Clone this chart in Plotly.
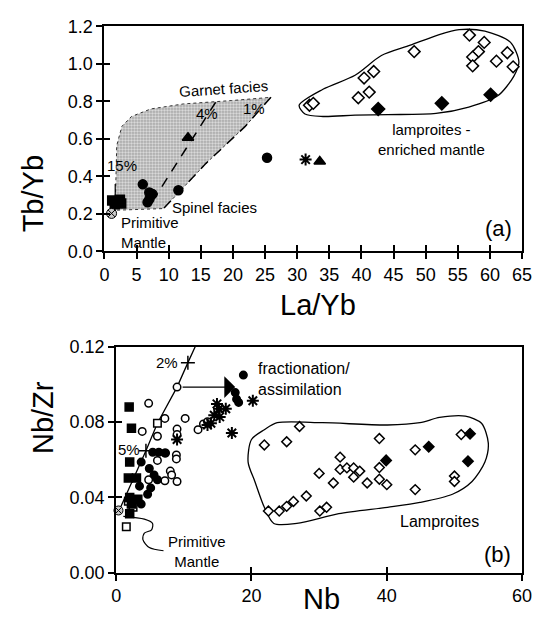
import plotly.graph_objects as go

# ---------------- (a) La/Yb vs Tb/Yb ----------------
a_pm_x = [1.1]; a_pm_y = [0.203]
a_sq_x = [1.2, 2.4, 1.6, 2.6]; a_sq_y = [0.272, 0.276, 0.252, 0.256]
a_ci_x = [5.96, 6.97, 7.48, 7.0, 6.7, 11.5, 25.3]
a_ci_y = [0.358, 0.315, 0.306, 0.28, 0.263, 0.327, 0.50]
a_tri_x = [13.0, 33.5]; a_tri_y = [0.607, 0.48]
a_ast_x = [31.3]; a_ast_y = [0.49]
a_od_x = [31.9, 32.5, 39.5, 41.2, 40.4, 41.9, 48.2, 56.8, 59.1, 58.2, 57.3, 57.3, 61.0, 62.7, 63.6]
a_od_y = [0.78, 0.79, 0.82, 0.85, 0.925, 0.96, 1.066, 1.154, 1.115, 1.066, 1.037, 0.99, 1.015, 1.06, 0.985]
a_fd_x = [42.6, 52.5, 60.1]; a_fd_y = [0.76, 0.79, 0.836]

a_env_x = [30.3, 34.0, 39.0, 43.1, 47.6, 52.1, 55.2, 59.2, 63.2, 64.5, 63.7, 61.2, 56.7, 51.6, 44.1, 39.0, 34.0, 31.2, 30.3]
a_env_y = [0.78, 0.865, 0.94, 1.045, 1.10, 1.157, 1.183, 1.175, 1.115, 1.01, 0.934, 0.83, 0.77, 0.736, 0.73, 0.727, 0.72, 0.733, 0.78]

garnet_x = [1.67, 1.8, 1.9, 2.7, 4.2, 7.2, 12.3, 19.8, 25.9, 21.9, 15.8, 9.2, 1.67]
garnet_y = [0.22, 0.40, 0.564, 0.667, 0.72, 0.76, 0.787, 0.805, 0.822, 0.667, 0.47, 0.229, 0.22]
melt1_x = [25.9, 21.9, 15.8, 9.2]; melt1_y = [0.822, 0.667, 0.47, 0.229]
melt4_x = [17.3, 14.3, 11.3, 7.7]; melt4_y = [0.796, 0.635, 0.478, 0.28]
melt15_x = [1.67, 1.67]; melt15_y = [0.36, 0.29]

# ---------------- (b) Nb vs Nb/Zr ----------------
b_pm_x = [0.34]; b_pm_y = [0.0331]
b_fsq_x = [1.92, 2.26, 2.0, 1.8, 3.0, 2.0, 3.2, 2.25, 2.0]
b_fsq_y = [0.088, 0.0768, 0.0588, 0.0503, 0.0503, 0.040, 0.039, 0.0365, 0.0314]
b_osq_x = [6.1, 1.5, 2.5, 1.8]; b_osq_y = [0.0794, 0.0245, 0.0348, 0.038]
b_oci_x = [4.8, 7.2, 10.2, 3.85, 6.1, 9.0, 9.0, 8.9, 8.9, 7.3, 6.1, 8.0, 8.2, 7.2, 9.0, 4.8, 12.1, 12.9, 13.5, 9.0]
b_oci_y = [0.09, 0.082, 0.082, 0.0751, 0.0725, 0.0763, 0.0734, 0.0626, 0.0605, 0.0636, 0.0597, 0.054, 0.052, 0.0489, 0.0485, 0.0494, 0.076, 0.079, 0.0802, 0.0986]
b_fci_x = [6.3, 7.2, 5.4, 3.7, 4.9, 5.6, 6.1, 3.45, 5.1, 4.65, 3.7, 18.8, 17.6, 17.8, 18.1]
b_fci_y = [0.064, 0.0636, 0.064, 0.0588, 0.0554, 0.052, 0.0494, 0.046, 0.0451, 0.0417, 0.0365, 0.105, 0.0957, 0.0922, 0.0905]
b_ast_x = [9.0, 14.0, 14.5, 15.2, 16.2, 15.3, 14.9, 17.1, 20.2, 13.5]
b_ast_y = [0.0708, 0.0794, 0.0837, 0.0871, 0.0871, 0.0828, 0.0897, 0.0742, 0.0914, 0.0785]
b_od_x = [21.9, 25.2, 27.1, 24.1, 25.2, 26.2, 28.1, 30.0, 30.1, 31.1, 32.1, 33.1, 33.1, 34.1, 35.1, 35.1, 36.0, 37.1, 38.9, 38.9, 38.9, 40.0, 44.2, 44.2, 50.0, 50.0, 51.0, 22.5]
b_od_y = [0.0679, 0.0696, 0.0777, 0.0328, 0.0353, 0.0379, 0.0408, 0.0528, 0.0328, 0.0348, 0.0477, 0.0614, 0.0549, 0.0557, 0.0557, 0.0508, 0.054, 0.0477, 0.0713, 0.0559, 0.0497, 0.0468, 0.0653, 0.0442, 0.0514, 0.0485, 0.0734, 0.0328]
b_fd_x = [39.9, 46.2, 52.3, 52.0]; b_fd_y = [0.0597, 0.0669, 0.0739, 0.0593]

b_env_x = [21.9, 23.8, 30.5, 40.1, 44.9, 47.8, 51.6, 54.0, 55.0, 54.5, 52.6, 49.7, 44.9, 40.1, 32.9, 26.7, 23.3, 21.9, 20.5, 19.5, 20.0, 21.9]
b_env_y = [0.076, 0.0797, 0.0797, 0.0785, 0.0797, 0.0825, 0.0832, 0.0794, 0.069, 0.0588, 0.0485, 0.0417, 0.0374, 0.0348, 0.0314, 0.0262, 0.0262, 0.0348, 0.0485, 0.0588, 0.0708, 0.076]

melt_x = [0.3, 4.4, 6.1, 9.0, 10.6, 11.8]
melt_y = [0.032, 0.0648, 0.0794, 0.0986, 0.1116, 0.121]
melt_tick_x = [10.6, 4.4]; melt_tick_y = [0.1116, 0.0648]
pm_call_x = [1.06, 4.17, 5.38, 5.23, 4.17, 3.94, 4.9, 7.0]
pm_call_y = [0.0300, 0.0285, 0.0262, 0.0228, 0.0211, 0.0177, 0.0134, 0.0117]

FONT = "Liberation Sans, Arial, Helvetica, sans-serif"
fig = go.Figure()

def pts(x, y, symbol, size, fill, xa="x", ya="y", lw=1.5):
    fig.add_trace(go.Scatter(x=x, y=y, xaxis=xa, yaxis=ya, mode="markers", cliponaxis=False,
                             marker=dict(symbol=symbol, size=size, color=fill,
                                         line=dict(color="black", width=lw)),
                             showlegend=False, hoverinfo="skip"))

def line(x, y, xa="x", ya="y", width=1.2, dash="solid", shape="linear", color="black", fill=None, pattern=None):
    kw = {}
    if fill:
        kw["fill"] = fill
        kw["fillpattern"] = pattern
        kw["fillcolor"] = "rgba(0,0,0,0)"
    fig.add_trace(go.Scatter(x=x, y=y, xaxis=xa, yaxis=ya, mode="lines",
                             line=dict(color=color, width=width, dash=dash, shape=shape, smoothing=0.8),
                             showlegend=False, hoverinfo="skip", **kw))

# (a)
line(garnet_x, garnet_y, width=1, dash="dot", color="#333", fill="toself",
     pattern=dict(shape=".", fgcolor="#2a2a2a", bgcolor="#e2e2e2", size=3, solidity=0.4))
line(melt1_x, melt1_y, width=1.5, dash="10px,8px")
line(melt4_x, melt4_y, width=1.5, dash="10px,8px")
line(melt15_x, melt15_y, width=1.2)
line(a_env_x, a_env_y, width=1.3, shape="spline")
pts(a_od_x, a_od_y, "diamond", 9, "white")
pts(a_fd_x, a_fd_y, "diamond", 10, "black")
pts(a_sq_x, a_sq_y, "square", 9, "black")
pts(a_ci_x, a_ci_y, "circle", 9, "black")
pts(a_tri_x, a_tri_y, "triangle-up", 10, "black")
pts(a_ast_x, a_ast_y, "asterisk-open", 10, "black", lw=2)
pts(a_pm_x, a_pm_y, "circle-x", 10, "#c8c8c8", lw=1)

# (b)
line(b_env_x, b_env_y, "x2", "y2", width=1.3, shape="spline")
line(pm_call_x, pm_call_y, "x2", "y2", width=1.2, shape="spline")
line(melt_x, melt_y, "x2", "y2", width=1.3)
pts(b_od_x, b_od_y, "diamond", 7.5, "white", "x2", "y2")
pts(b_fd_x, b_fd_y, "diamond", 8, "black", "x2", "y2")
pts(b_oci_x, b_oci_y, "circle", 7.5, "white", "x2", "y2")
pts(b_osq_x, b_osq_y, "square", 7.5, "white", "x2", "y2")
pts(b_fsq_x, b_fsq_y, "square", 8, "black", "x2", "y2")
pts(b_fci_x, b_fci_y, "circle", 7.5, "black", "x2", "y2")
pts(b_ast_x, b_ast_y, "asterisk-open", 10, "black", "x2", "y2", lw=2)
pts(melt_tick_x, melt_tick_y, "cross-thin-open", 10, "black", "x2", "y2", lw=1.5)
pts(b_pm_x, b_pm_y, "circle-x", 9, "#c8c8c8", "x2", "y2", lw=1)

# invisible traces so that the inner-tick overlay axes get drawn
fig.add_trace(go.Scatter(x=[-100], y=[-100], xaxis="x3", yaxis="y3", mode="markers",
                         marker=dict(opacity=0), showlegend=False, hoverinfo="skip"))
fig.add_trace(go.Scatter(x=[-100], y=[-100], xaxis="x4", yaxis="y4", mode="markers",
                         marker=dict(opacity=0), showlegend=False, hoverinfo="skip"))

dxa = [102.3 / 547, 531.7 / 547]
dya = [1 - 249.3 / 639, 1 - 17 / 639]
dxb = [114.3 / 547, 531.7 / 547]
dyb = [1 - 581 / 639, 1 - 347.7 / 639]

tickfont = dict(family=FONT, size=18, color="black")
base = dict(showline=True, linewidth=2, linecolor="black", mirror=True, ticks="outside",
            ticklen=6, tickwidth=1.5, tickcolor="black", showgrid=False, zeroline=False,
            tickfont=tickfont)
inner = dict(showline=False, ticks="inside", ticklen=6, tickwidth=1.5, tickcolor="black",
             showgrid=False, zeroline=False, showticklabels=False)

fig.update_layout(
    width=547, height=639, margin=dict(l=0, r=0, t=0, b=0),
    paper_bgcolor="white", plot_bgcolor="white", showlegend=False,
    font=dict(family=FONT, color="black"),
    xaxis=dict(base, domain=dxa, range=[0, 65], tickvals=list(range(0, 66, 5)), anchor="y"),
    yaxis=dict(base, domain=dya, range=[0, 1.2], tickvals=[0, 0.2, 0.4, 0.6, 0.8, 1.0, 1.2],
               tickformat=".1f", anchor="x"),
    xaxis2=dict(base, domain=dxb, range=[0, 60], tickvals=[0, 20, 40, 60], anchor="y2"),
    yaxis2=dict(base, domain=dyb, range=[0, 0.12], tickvals=[0, 0.04, 0.08, 0.12],
                tickformat=".2f", anchor="x2"),
    xaxis3=dict(inner, overlaying="x", matches="x", anchor="y3", tickvals=list(range(0, 66, 5))),
    yaxis3=dict(inner, overlaying="y", matches="y", anchor="x3", tickvals=[0, 0.2, 0.4, 0.6, 0.8, 1.0]),
    xaxis4=dict(inner, overlaying="x2", matches="x2", anchor="y4", tickvals=[0, 20, 40, 60]),
    yaxis4=dict(inner, overlaying="y2", matches="y2", anchor="x4", tickvals=[0, 0.04, 0.08]),
)

def note(text, x, y, size, xref="x", yref="y", xanchor="center", align="center", angle=0):
    fig.add_annotation(text=text, x=x, y=y, xref=xref, yref=yref, showarrow=False,
                       xanchor=xanchor, align=align, textangle=angle,
                       font=dict(family=FONT, size=size, color="black"))

# (a) labels
note("Garnet facies", 18.6, 0.87, 15, angle=-4)
note("4%", 15.9, 0.735, 15)
note("1%", 23.2, 0.76, 15)
note("15%", 2.8, 0.46, 15)
note("Spinel facies", 17.1, 0.235, 15)
note("Primitive<br>Mantle", 2.2, 0.102, 15, xanchor="left", align="left")
note("lamproites -<br>enriched mantle", 50.9, 0.597, 15)
note("(a)", 61.3, 0.12, 22)

# (b) labels
note("2%", 7.5, 0.1116, 15, "x2", "y2")
note("5%", 1.87, 0.0655, 15, "x2", "y2")
note("fractionation/<br>assimilation", 20.7, 0.1029, 16, "x2", "y2", xanchor="left", align="left")
note("Lamproites", 47.8, 0.0271, 16, "x2", "y2")
note("(b)", 56.4, 0.0099, 22, "x2", "y2")
note("Primitive<br>Mantle", 12.0, 0.0112, 15, "x2", "y2")

fig.add_annotation(x=17.6, y=0.0986, ax=9.6, ay=0.0986, xref="x2", yref="y2", axref="x2", ayref="y2",
                   showarrow=True, arrowhead=1, arrowsize=2.8, arrowwidth=1.3, arrowcolor="black",
                   text="")

# axis titles
note("Tb/Yb", 29 / 547, 1 - 148.3 / 639, 29, "paper", "paper", angle=-90)
note("La/Yb", 321.7 / 547, 1 - 305 / 639, 29, "paper", "paper")
note("Nb/Zr", 39 / 547, 1 - 460 / 639, 29, "paper", "paper", angle=-90)
note("Nb", 325.8 / 547, 1 - 627 / 639, 29, "paper", "paper")

fig.write_html("out.html")
